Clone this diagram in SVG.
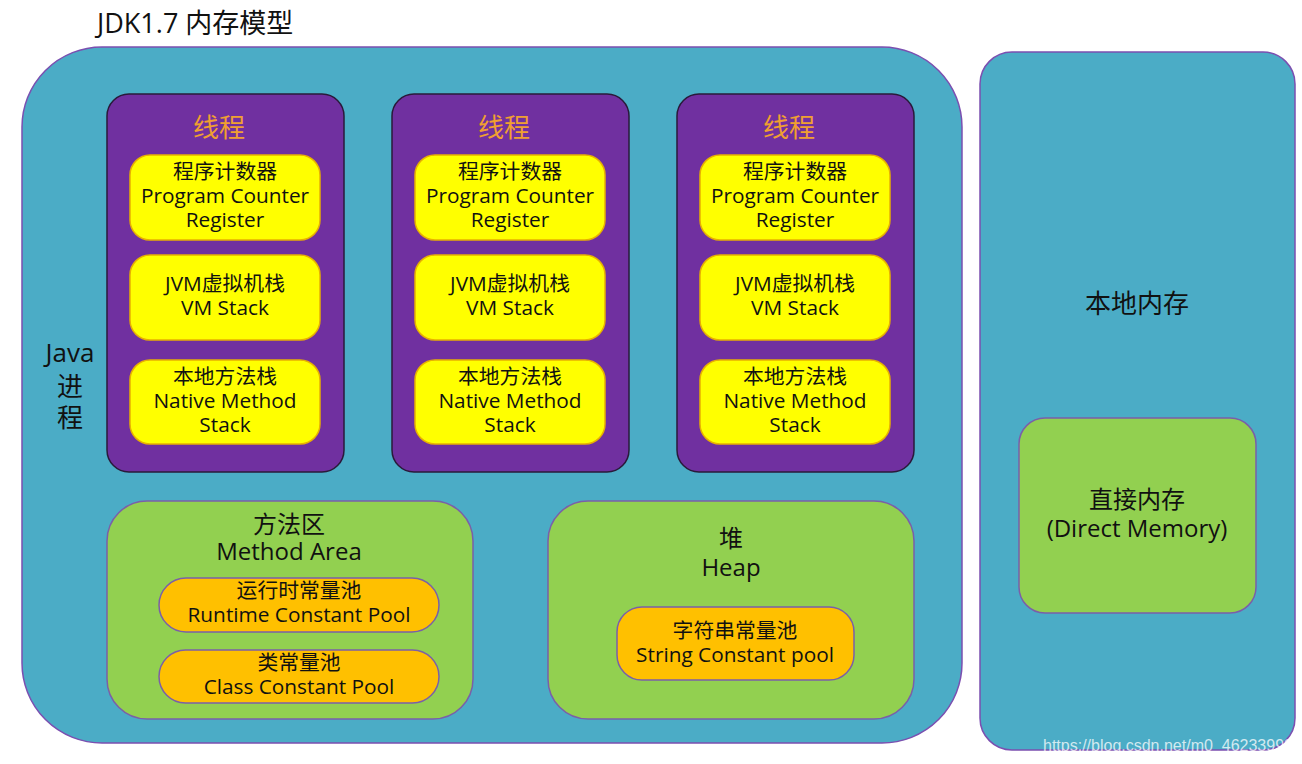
<svg xmlns="http://www.w3.org/2000/svg" width="1302" height="764" viewBox="0 0 1302 764">
<style>
text{font-family:"Open Sans","Noto Sans CJK SC",sans-serif;fill:#111;text-anchor:middle}
.proc{fill:#4BACC6;stroke:#7B4FB0;stroke-width:1.5}
.thread{fill:#7030A0;stroke:#2a1a3a;stroke-width:1.5}
.yb{fill:#FFFF00;stroke:#E8B000;stroke-width:1.5}
.gb{fill:#92D050;stroke:#7B5FA8;stroke-width:1.5}
.ob{fill:#FFC000;stroke:#7B5FA8;stroke-width:1.5}
.t21{font-size:20.8px}
.t24{font-size:24px}
.t26{font-size:26px}
.tt{font-size:26px;fill:#F0A030}
</style>
<rect width="1302" height="764" fill="#fff"/>
<text x="97" y="33" style="font-size:27px;text-anchor:start">JDK1.7 内存模型</text>

<g id="java-process">
<rect class="proc" x="22" y="47" width="940" height="696" rx="80" ry="80"/>
<text x="70" y="362" class="t26">Java</text>
<text x="70" y="396" class="t26">进</text>
<text x="70" y="427" class="t26">程</text>
</g>

<g id="thread1">
<rect class="thread" x="107" y="94" width="237" height="378" rx="22"/>
<text x="219" y="137" class="tt">线程</text>
<rect class="yb" x="130" y="155" width="190" height="85" rx="20"/>
<text x="225" y="179" class="t21">程序计数器</text>
<text x="225" y="203" class="t21">Program Counter</text>
<text x="225" y="227" class="t21">Register</text>
<rect class="yb" x="130" y="255" width="190" height="85" rx="20"/>
<text x="225" y="291" class="t21">JVM虚拟机栈</text>
<text x="225" y="315" class="t21">VM Stack</text>
<rect class="yb" x="130" y="360" width="190" height="84" rx="20"/>
<text x="225" y="384" class="t21">本地方法栈</text>
<text x="225" y="408" class="t21">Native Method</text>
<text x="225" y="432" class="t21">Stack</text>
</g>

<g id="thread2">
<rect class="thread" x="392" y="94" width="237" height="378" rx="22"/>
<text x="504" y="137" class="tt">线程</text>
<rect class="yb" x="415" y="155" width="190" height="85" rx="20"/>
<text x="510" y="179" class="t21">程序计数器</text>
<text x="510" y="203" class="t21">Program Counter</text>
<text x="510" y="227" class="t21">Register</text>
<rect class="yb" x="415" y="255" width="190" height="85" rx="20"/>
<text x="510" y="291" class="t21">JVM虚拟机栈</text>
<text x="510" y="315" class="t21">VM Stack</text>
<rect class="yb" x="415" y="360" width="190" height="84" rx="20"/>
<text x="510" y="384" class="t21">本地方法栈</text>
<text x="510" y="408" class="t21">Native Method</text>
<text x="510" y="432" class="t21">Stack</text>
</g>

<g id="thread3">
<rect class="thread" x="677" y="94" width="237" height="378" rx="22"/>
<text x="789" y="137" class="tt">线程</text>
<rect class="yb" x="700" y="155" width="190" height="85" rx="20"/>
<text x="795" y="179" class="t21">程序计数器</text>
<text x="795" y="203" class="t21">Program Counter</text>
<text x="795" y="227" class="t21">Register</text>
<rect class="yb" x="700" y="255" width="190" height="85" rx="20"/>
<text x="795" y="291" class="t21">JVM虚拟机栈</text>
<text x="795" y="315" class="t21">VM Stack</text>
<rect class="yb" x="700" y="360" width="190" height="84" rx="20"/>
<text x="795" y="384" class="t21">本地方法栈</text>
<text x="795" y="408" class="t21">Native Method</text>
<text x="795" y="432" class="t21">Stack</text>
</g>

<g id="method-area">
<rect class="gb" x="107" y="501" width="366" height="218" rx="40"/>
<text x="289" y="533" class="t24">方法区</text>
<text x="289" y="560" class="t24">Method Area</text>
<rect class="ob" x="159" y="578" width="280" height="54" rx="27"/>
<text x="299" y="598" class="t21">运行时常量池</text>
<text x="299" y="622" class="t21">Runtime Constant Pool</text>
<rect class="ob" x="159" y="650" width="280" height="53" rx="26.5"/>
<text x="299" y="670" class="t21">类常量池</text>
<text x="299" y="694" class="t21">Class Constant Pool</text>
</g>

<g id="heap">
<rect class="gb" x="548" y="501" width="366" height="218" rx="40"/>
<text x="731" y="547" class="t24">堆</text>
<text x="731" y="576" class="t24">Heap</text>
<rect class="ob" x="617" y="607" width="237" height="73" rx="25"/>
<text x="735" y="638" class="t21">字符串常量池</text>
<text x="735" y="662" class="t21">String Constant pool</text>
</g>

<g id="native-memory">
<rect class="proc" x="980" y="52" width="315" height="698" rx="32"/>
<text x="1137" y="313" class="t26">本地内存</text>
</g>

<g id="direct-memory">
<rect class="gb" x="1019" y="418" width="237" height="195" rx="26"/>
<text x="1137" y="508" class="t24">直接内存</text>
<text x="1137" y="537" class="t24">(Direct Memory)</text>
</g>

<g id="connectors"></g>

<text x="1043" y="751" style="font-family:'Liberation Sans',Arial,sans-serif;font-size:16px;fill:#fff;fill-opacity:0.75;text-anchor:start">https://blog.csdn.net/m0_46233999</text>
</svg>
